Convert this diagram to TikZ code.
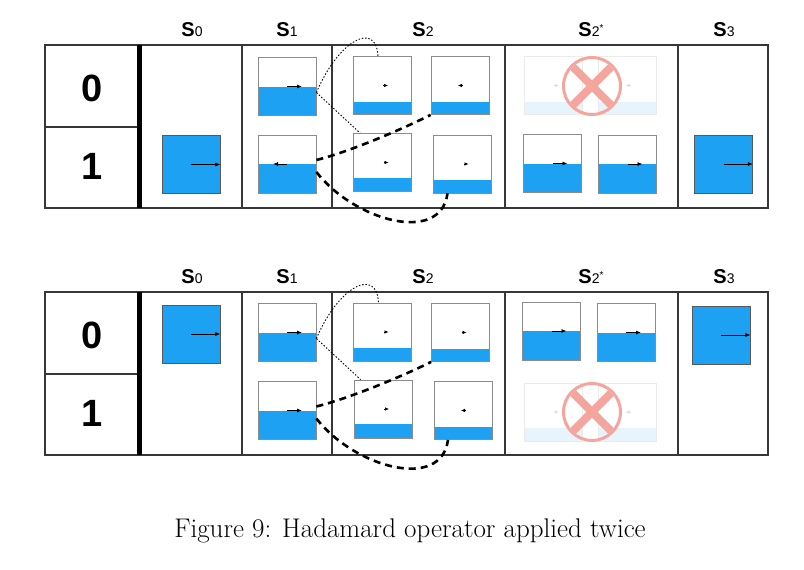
\documentclass[tikz,border=0pt]{standalone}
\usepackage{fontspec}
\newfontfamily\hv{Liberation Sans}
\usetikzlibrary{arrows.meta}
\definecolor{water}{RGB}{29,161,242}
\definecolor{paleblue}{RGB}{232,244,253}
\definecolor{crossred}{RGB}{244,166,158}
\definecolor{grid}{RGB}{55,55,55}
\newcommand\stateS[2]{{\bfseries S}{\fontsize{14}{14}\selectfont #1}\raisebox{5pt}{\fontsize{10}{10}\selectfont #2}}
\tikzset{
  tank/.style={draw=black!45, line width=0.8pt, minimum width=58pt, minimum height=58pt, inner sep=0pt,
    path picture={\fill[water] (path picture bounding box.south west) rectangle ([yshift=#1]path picture bounding box.south east);}},
  full/.style={tank=58pt, draw=black!65},
  ghost/.style={draw=black!8, line width=0.8pt, minimum width=58pt, minimum height=58pt, inner sep=0pt,
    path picture={\fill[paleblue] (path picture bounding box.south west) rectangle ([yshift=13pt]path picture bounding box.south east);}},
  flow/.style={-{Latex[length=5pt,width=4pt]}, line width=0.8pt},
  nub/.style={-{Latex[length=4pt,width=3.5pt]}, line width=0.5pt},
  hop/.style={line width=0.9pt, dash pattern=on 1.5pt off 1.8pt},
  jump/.style={line width=2.6pt, dash pattern=on 7pt off 5pt},
  colhead/.style={font=\hv\fontsize{20}{20}\selectfont},
  rowlabel/.style={font=\hv\fontsize{38}{38}\selectfont\bfseries},
  cross/.style={circle, draw=crossred, line width=3pt, minimum size=57pt, inner sep=0pt},
}
\begin{document}
\begin{tikzpicture}[x=1pt,y=-1pt]
  \useasboundingbox (0,0) rectangle (804,570);
  % the two tables
  \foreach \o in {0,247}{
    \draw[grid, line width=1.3pt] (45,45+\o) rectangle (768,208+\o);
    \draw[grid, line width=1.3pt] (45,127+\o) -- (139,127+\o);
    \foreach \x in {242,332,505,678} \draw[grid, line width=1.3pt] (\x,45+\o) -- (\x,208+\o);
    \draw[line width=5pt] (139,45+\o) -- (139,208+\o);
    \node[rowlabel] (zero-\o) at (92,88+\o) {0};
    \node[rowlabel] (one-\o) at (92,166+\o) {1};
    \node[colhead] (h0-\o) at (192,30+\o) {\stateS{0}{}};
    \node[colhead] (h1-\o) at (287,30+\o) {\stateS{1}{}};
    \node[colhead] (h2-\o) at (423,30+\o) {\stateS{2}{}};
    \node[colhead] (h2s-\o) at (591,30+\o) {\stateS{2}{*}};
    \node[colhead] (h3-\o) at (724,30+\o) {\stateS{3}{}};
  }

  % first table
  \node[full] (A-s0-1) at (191,164.5) {};
  \draw[flow] (A-s0-1.center) -- (A-s0-1.east);
  \node[tank=29pt] (A-s1-0) at (287,86.5) {};
  \draw[flow] (A-s1-0.center) -- ++(15,0);
  \node[tank=29pt] (A-s1-1) at (287,164) {};
  \draw[flow] (A-s1-1.center) -- ++(-14,0);
  \node[tank=13pt] (A-s2-0a) at (382,85.5) {};
  \draw[nub] ([xshift=1pt]A-s2-0a.center) -- ++(5,0);
  \node[tank=13pt] (A-s2-0b) at (460,85.5) {};
  \draw[nub] ([xshift=3pt]A-s2-0b.center) -- ++(-5,0);
  \node[tank=14pt] (A-s2-1a) at (382.5,162.5) {};
  \draw[nub] ([xshift=1pt]A-s2-1a.center) -- ++(5,0);
  \node[tank=13pt] (A-s2-1b) at (462.5,164) {};
  \draw[nub] ([xshift=1pt]A-s2-1b.center) -- ++(5,0);
  \node[ghost] (A-s2s-0a) at (553,85.5) {};
  \draw[nub, black!12] ([xshift=1pt]A-s2s-0a.center) -- ++(5,0);
  \node[ghost] (A-s2s-0b) at (627.5,85.5) {};
  \draw[nub, black!12] ([xshift=3pt]A-s2s-0b.center) -- ++(-5,0);
  \node[cross] (A-x) at (592,86) {};
  \begin{scope}
    \clip (A-x.center) circle (27pt);
    \draw[crossred, line width=8pt] (A-x.north west) -- (A-x.south east) (A-x.north east) -- (A-x.south west);
  \end{scope}
  \node[tank=29pt] (A-s2s-1a) at (552.5,163.5) {};
  \draw[flow] (A-s2s-1a.center) -- ++(15,0);
  \node[tank=29pt] (A-s2s-1b) at (627.5,164) {};
  \draw[flow] (A-s2s-1b.center) -- ++(15,0);
  \node[full] (A-s3-1) at (723.5,164) {};
  \draw[flow] (A-s3-1.center) -- (A-s3-1.east);
  % splitting
  \draw[hop] ([yshift=-6pt]A-s1-0.east) .. controls +(22,-52) and +(-2,-36) .. ([xshift=-4pt]A-s2-0a.north);
  \draw[hop] ([yshift=-6pt]A-s1-0.east) -- ([xshift=7pt]A-s2-1a.north west);
  \draw[jump] ([yshift=4pt]A-s1-1.east) .. controls +(32,-8) and +(-31,15.5) .. (A-s2-0b.south west);
  \draw[jump] ([yshift=-8pt]A-s1-1.east) .. controls +(37,48) and +(-7,52) .. ([xshift=-15pt]A-s2-1b.south);

  % second table
  \node[full] (B-s0-0) at (191,334) {};
  \draw[flow] (B-s0-0.center) -- (B-s0-0.east);
  \node[tank=29pt] (B-s1-0) at (287,332.5) {};
  \draw[flow] (B-s1-0.center) -- ++(15,0);
  \node[tank=29pt] (B-s1-1) at (287,410.5) {};
  \draw[flow] (B-s1-1.center) -- ++(15,0);
  \node[tank=13pt] (B-s2-0a) at (382.5,332) {};
  \draw[nub] ([xshift=1pt]B-s2-0a.center) -- ++(5,0);
  \node[tank=13pt] (B-s2-0b) at (460.5,332.5) {};
  \draw[nub] ([xshift=1pt]B-s2-0b.center) -- ++(5,0);
  \node[tank=14pt] (B-s2-1a) at (383,409) {};
  \draw[nub] ([xshift=1pt]B-s2-1a.center) -- ++(5,0);
  \node[tank=13pt] (B-s2-1b) at (463,410.5) {};
  \draw[nub] ([xshift=3pt]B-s2-1b.center) -- ++(-5,0);
  \node[tank=29pt] (B-s2s-0a) at (551.5,331) {};
  \draw[flow] (B-s2s-0a.center) -- ++(15,0);
  \node[tank=29pt] (B-s2s-0b) at (626,332.5) {};
  \draw[flow] (B-s2s-0b.center) -- ++(15,0);
  \node[ghost] (B-s2s-1a) at (553,412) {};
  \draw[nub, black!12] ([xshift=1pt]B-s2s-1a.center) -- ++(5,0);
  \node[ghost] (B-s2s-1b) at (627.5,412) {};
  \draw[nub, black!12] ([xshift=3pt]B-s2s-1b.center) -- ++(-5,0);
  \node[cross] (B-x) at (592,412) {};
  \begin{scope}
    \clip (B-x.center) circle (27pt);
    \draw[crossred, line width=8pt] (B-x.north west) -- (B-x.south east) (B-x.north east) -- (B-x.south west);
  \end{scope}
  \node[full] (B-s3-0) at (721,335) {};
  \draw[flow] (B-s3-0.center) -- (B-s3-0.east);
  % splitting
  \draw[hop] ([yshift=-6pt]B-s1-0.east) .. controls +(22,-52) and +(-2,-36) .. ([xshift=-4pt]B-s2-0a.north);
  \draw[hop] ([yshift=-6pt]B-s1-0.east) -- ([xshift=7pt]B-s2-1a.north west);
  \draw[jump] ([yshift=4pt]B-s1-1.east) .. controls +(32,-8) and +(-31,15.5) .. (B-s2-0b.south west);
  \draw[jump] ([yshift=-8pt]B-s1-1.east) .. controls +(37,48) and +(-7,52) .. ([xshift=-15pt]B-s2-1b.south);

  \node[font=\fontsize{27}{32}\selectfont] (caption) at (410,531) {Figure 9: Hadamard operator applied twice};
\end{tikzpicture}
\end{document}
